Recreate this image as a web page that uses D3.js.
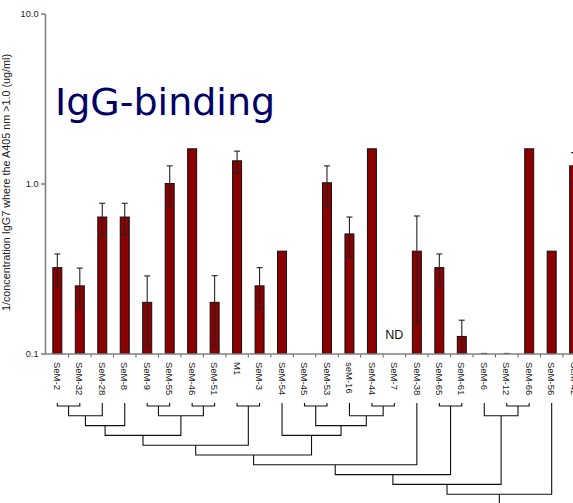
<!DOCTYPE html>
<html>
<head>
<meta charset="utf-8">
<script src="https://cdn.jsdelivr.net/npm/d3@7"></script>
<style>
  html, body { margin: 0; padding: 0; background: #fff; overflow: hidden; }
  svg { display: block; font-family: "Liberation Sans", Arial, sans-serif; }
</style>
</head>
<body>
<svg id="chart" width="573" height="503"></svg>
<script>
const categories = ['SeM-2', 'SeM-32', 'SeM-28', 'SeM-8', 'SeM-9', 'SeM-55', 'SeM-46', 'SeM-51',
    'M1', 'SeM-3', 'SeM-54', 'SeM-45', 'SeM-53', 'seM-16', 'SeM-44', 'SeM-7', 'SeM-38',
    'SeM-65', 'SeM-61', 'SeM-6', 'SeM-12', 'SeM-66', 'SeM-56', 'SeM-42']

const values = [0.32, 0.25, 0.635, 0.635, 0.2, 1.0, 1.6, 0.2,
    1.36, 0.25, 0.4, null, 1.01, 0.505, 1.6, null, 0.4,
    0.32, 0.126, 0.1, 0.1, 1.6, 0.4, 1.27]

const errLow = [0.249, 0.186, 0.496, 0.496, 0.111, 0.74, null, 0.11,
    1.15, 0.185, null, null, 0.734, 0.37, null, null, 0.152,
    0.25, 0.1, 0.1, 0.1, null, null, 1.0]

const errHigh = [0.385, 0.318, 0.765, 0.765, 0.286, 1.27, null, 0.287,
    1.55, 0.32, null, null, 1.27, 0.635, null, null, 0.644,
    0.385, 0.157, 0.1, 0.1, null, null, 1.52]

const notDetected = ['SeM-7']
const yTicks = [0.1, 1, 10]

// dendrogram merges: [name, left, right, level]
const clusters = [
    ['c1', 'SeM-2', 'SeM-32', 1],
    ['c2', 'c1', 'SeM-28', 2],
    ['c3', 'c2', 'SeM-8', 3],
    ['c4', 'SeM-9', 'SeM-55', 1],
    ['c5', 'SeM-46', 'SeM-51', 1],
    ['c6', 'c4', 'c5', 2],
    ['c7', 'c3', 'c6', 4],
    ['c8', 'M1', 'SeM-3', 1],
    ['c9', 'c7', 'c8', 5],
    ['c10', 'SeM-45', 'SeM-53', 1],
    ['c11', 'SeM-44', 'SeM-7', 1],
    ['c12', 'seM-16', 'c11', 2],
    ['c13', 'c10', 'c12', 3],
    ['c14', 'SeM-54', 'c13', 4],
    ['c15', 'c9', 'c14', 6],
    ['c16', 'c15', 'SeM-38', 7],
    ['c17', 'SeM-65', 'SeM-61', 1],
    ['c18', 'c16', 'c17', 8],
    ['c19', 'SeM-12', 'SeM-66', 1],
    ['c20', 'SeM-6', 'c19', 2],
    ['c21', 'c18', 'c20', 9],
    ['c22', 'c21', 'SeM-56', 10],
    ['c23', 'c22', 'SeM-42', 11]
]

const svg = d3.select('#chart')

const x = d3.scaleBand()
    .domain(categories)
    .range([46.1, 46.1 + categories.length * 22.47])

const y = d3.scaleLog()
    .domain([0.1, 10])
    .range([353.5, 13.5])

const level = d3.scaleLinear()
    .domain([1, 11])
    .range([406, 504])

const barWidth = 9
const cx = (c) => x(c) + x.bandwidth() / 2

// title
svg.append('text')
    .attr('x', 55)
    .attr('y', 115)
    .attr('font-family', '"DejaVu Sans", Verdana, sans-serif')
    .attr('font-size', 38)
    .attr('fill', '#000066')
    .text('IgG-binding')

// y axis
const yAxis = svg.append('g')
    .attr('transform', 'translate(45,0)')
    .call(d3.axisLeft(y).tickValues(yTicks).tickFormat(d3.format('.1f')).tickSize(4).tickSizeOuter(0))
yAxis.select('.domain').attr('stroke', '#808080').attr('stroke-width', 1.6)
yAxis.selectAll('.tick line').attr('stroke', '#606060').attr('stroke-width', 1.2)
yAxis.selectAll('.tick text')
    .attr('font-family', '"Liberation Sans", Arial, sans-serif')
    .attr('font-size', 9.2)
    .attr('fill', '#222')
    .attr('x', -6.5)

svg.append('text')
    .attr('transform', 'translate(10,182.5) rotate(-90)')
    .attr('text-anchor', 'middle')
    .attr('font-size', 10.8)
    .attr('fill', '#222')
    .text('1/concentration IgG7 where the A405 nm >1.0 (ug/ml)')

// bars
const data = categories.map((c, i) => ({
    cat: c, value: values[i], lo: errLow[i], hi: errHigh[i]
}))

svg.selectAll('rect.bar')
  .data(data.filter(d => d.value != null && d.value > 0.1))
  .enter().append('rect')
    .attr('class', 'bar')
    .attr('x', d => cx(d.cat) - barWidth / 2)
    .attr('width', barWidth)
    .attr('y', d => y(d.value))
    .attr('height', d => y(0.1) - y(d.value))
    .attr('fill', '#8b0000')
    .attr('stroke', '#111')
    .attr('stroke-width', 1)

// error bars
const errs = svg.selectAll('g.err')
  .data(data.filter(d => d.lo != null))
  .enter().append('g')
    .attr('class', 'err')
    .attr('stroke', '#222')
    .attr('stroke-width', 1.1)

errs.append('line')
    .attr('x1', d => cx(d.cat)).attr('x2', d => cx(d.cat))
    .attr('y1', d => y(d.hi)).attr('y2', d => y(d.lo))
errs.append('line')
    .attr('x1', d => cx(d.cat) - 3).attr('x2', d => cx(d.cat) + 3)
    .attr('y1', d => y(d.hi)).attr('y2', d => y(d.hi))
errs.append('line')
    .attr('x1', d => cx(d.cat) - 3).attr('x2', d => cx(d.cat) + 3)
    .attr('y1', d => y(d.lo)).attr('y2', d => y(d.lo))

// ND labels
svg.selectAll('text.nd')
  .data(notDetected)
  .enter().append('text')
    .attr('class', 'nd')
    .attr('x', d => cx(d))
    .attr('y', 339)
    .attr('text-anchor', 'middle')
    .attr('font-size', 12.5)
    .attr('fill', '#111')
    .text('ND')

// x axis
svg.append('line')
    .attr('x1', 44).attr('x2', x.range()[1])
    .attr('y1', y(0.1) + 0.5).attr('y2', y(0.1) + 0.5)
    .attr('stroke', '#808080')
    .attr('stroke-width', 1.6)

svg.selectAll('line.xtick')
  .data(categories.slice(1))
  .enter().append('line')
    .attr('class', 'xtick')
    .attr('x1', d => x(d)).attr('x2', d => x(d))
    .attr('y1', y(0.1) + 1).attr('y2', y(0.1) + 4)
    .attr('stroke', '#606060')

svg.selectAll('text.xlabel')
  .data(categories)
  .enter().append('text')
    .attr('class', 'xlabel')
    .attr('transform', d => `translate(${cx(d)},362) rotate(90)`)
    .attr('dy', '0.35em')
    .attr('font-size', 9.5)
    .attr('fill', '#222')
    .text(d => d)

// dendrogram
const nodes = {}
categories.forEach(c => { nodes[c] = { x: cx(c), y: 403 } })
clusters.forEach(([name, a, b, lv]) => {
    nodes[name] = { x: (nodes[a].x + nodes[b].x) / 2, y: level(lv), a: a, b: b }
})

const tree = svg.append('g')
    .attr('fill', 'none')
    .attr('stroke', '#111')
    .attr('stroke-width', 1.1)

tree.selectAll('path')
  .data(clusters)
  .enter().append('path')
    .attr('d', ([name, a, b]) => {
        let n = nodes[name], l = nodes[a], r = nodes[b]
        return `M${l.x},${l.y}V${n.y}H${r.x}V${r.y}`
    })
</script>
</body>
</html>
